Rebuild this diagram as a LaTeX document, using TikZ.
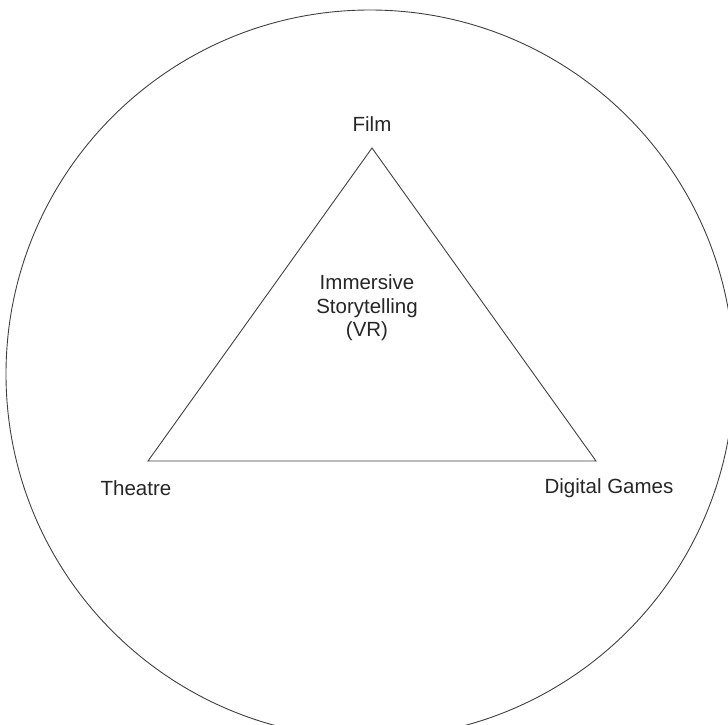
\documentclass[tikz,border=0pt]{standalone}
\usepackage{fontspec}
\setmainfont{Liberation Sans}
\usetikzlibrary{positioning}
\tikzset{
    edge/.style={line width=0.9pt, black!75},
    vlabel/.style={font=\fontsize{20.5}{23.5}\selectfont, color=black!85, inner sep=0pt}
}

\begin{document}
\begin{tikzpicture}[x=1pt, y=-1pt]
    \useasboundingbox (0,0) rectangle (728,725);

    % --- Outer circle ---
    \coordinate (centre) at (370,374);
    \draw[edge] (centre) circle[radius=364];

    % --- Triangle corners ---
    \coordinate (film) at (372,148);
    \coordinate (theatre) at (148,461);
    \coordinate (games) at (596,461);
    \draw[edge, line join=miter] (film) -- (games) -- (theatre) -- cycle;

    % Corner labels
    \node[vlabel] (lfilm) at (372,124) {Film};
    \node[vlabel] (ltheatre) at (136,488) {Theatre};
    \node[vlabel] (lgames) at (609,488) {Digital Games};

    % Middle text
    \node[vlabel, align=center] (core) at (367,308) {Immersive\\Storytelling\\(VR)};

\end{tikzpicture}
\end{document}
